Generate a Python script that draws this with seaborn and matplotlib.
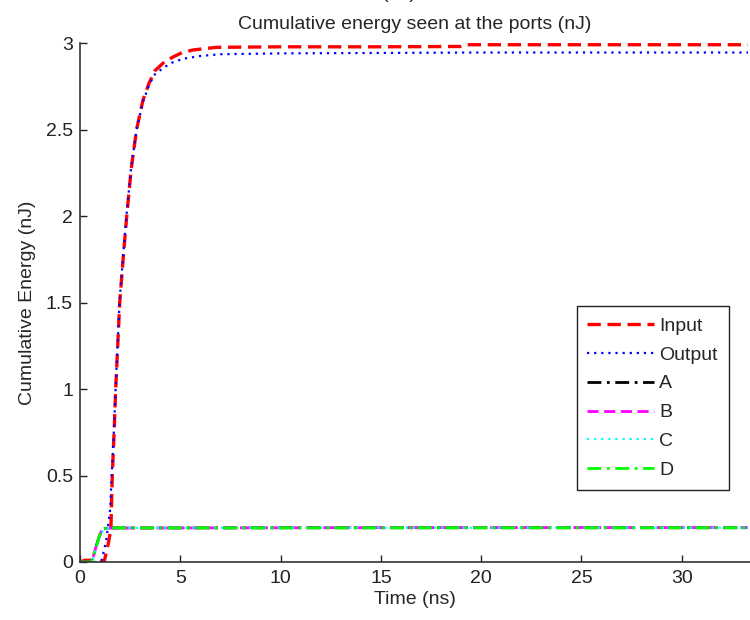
import matplotlib
matplotlib.use("Agg")
import matplotlib.pyplot as plt
import seaborn as sns
import pandas as pd

# Cumulative energy (nJ) at each port versus time (ns)
t_input = [0, 0.25, 0.75, 1.0, 1.2, 1.4, 1.54, 1.61, 1.7, 1.78, 1.88, 1.98, 2.15, 2.33,
           2.55, 2.82, 3.14, 3.45, 3.74, 4.2, 4.65, 5.1, 5.65, 6.8, 10, 15, 19, 19.3, 25, 33.3]
e_input = [0, 0.01, 0.01, 0.0, 0.0, 0.1, 0.19, 0.5, 0.75, 1.0, 1.25, 1.5, 1.75, 2.0,
           2.27, 2.5, 2.67, 2.77, 2.84, 2.89, 2.92, 2.945, 2.96, 2.975, 2.978, 2.978, 2.98, 2.99, 2.99, 2.99]

t_output = [0, 0.9, 1.08, 1.3, 1.5, 1.6, 1.7, 1.78, 1.88, 1.98, 2.15, 2.33,
            2.55, 2.82, 3.14, 3.45, 3.74, 4.2, 4.65, 5.2, 6.0, 7.0, 10, 20, 33.3]
e_output = [0, 0.0, 0.01, 0.12, 0.3, 0.55, 0.78, 1.02, 1.27, 1.52, 1.77, 2.02,
            2.28, 2.5, 2.66, 2.76, 2.82, 2.86, 2.89, 2.91, 2.925, 2.935, 2.94, 2.945, 2.945]

t_ports = [0, 0.55, 0.66, 0.78, 0.91, 1.0, 1.08, 1.15, 1.3, 1.5, 5, 10, 20, 33.3]
e_a = [0, 0.0, 0.03, 0.08, 0.13, 0.16, 0.18, 0.19, 0.195, 0.197, 0.197, 0.198, 0.198, 0.198]
e_b = [0, 0.0, 0.03, 0.08, 0.13, 0.16, 0.18, 0.19, 0.195, 0.196, 0.197, 0.198, 0.199, 0.199]
e_c = [0, 0.0, 0.02, 0.07, 0.12, 0.15, 0.17, 0.185, 0.194, 0.197, 0.198, 0.198, 0.198, 0.198]
e_d = [0, 0.0, 0.03, 0.08, 0.13, 0.16, 0.18, 0.19, 0.195, 0.197, 0.197, 0.197, 0.198, 0.198]

series = [
    ("Input", t_input, e_input, "#ff0000", (0, (4, 2)), 2.4),
    ("Output", t_output, e_output, "#0000ff", (0, (1, 2.2)), 1.6),
    ("A", t_ports, e_a, "#000000", (0, (5, 2, 1, 2)), 2.0),
    ("B", t_ports, e_b, "#ff00ff", (0, (4, 2)), 2.0),
    ("C", t_ports, e_c, "#00ffff", (0, (1, 2.2)), 1.6),
    ("D", t_ports, e_d, "#00ff00", (0, (5, 2, 1, 2)), 2.0),
]

FS = 14

sns.set_style("white")
plt.rcParams["font.family"] = ["Liberation Sans", "DejaVu Sans"]

fig = plt.figure(figsize=(7.5, 6.2), dpi=100)
ax = fig.add_axes([80 / 750, 58 / 620, 670 / 750, 519 / 620])

for name, t, e, color, ls, lw in series:
    df = pd.DataFrame({"t": t, "e": e})
    sns.lineplot(data=df, x="t", y="e", ax=ax, color=color, linestyle=ls,
                 linewidth=lw, label=name)

ax.set_xlim(0, 33.4)
ax.set_ylim(0, 3)
ax.set_xticks([0, 5, 10, 15, 20, 25, 30])
ax.set_yticks([0, 0.5, 1, 1.5, 2, 2.5, 3])
ax.set_yticklabels(["0", "0.5", "1", "1.5", "2", "2.5", "3"])
ax.tick_params(direction="in", length=5, width=1, labelsize=FS, colors="#222222",
               bottom=True, left=True)
ax.tick_params(axis="x", pad=6)
ax.tick_params(axis="y", pad=5)
ax.spines["top"].set_visible(False)
ax.spines["right"].set_visible(False)
for s in ("left", "bottom"):
    ax.spines[s].set_color("#333333")
    ax.spines[s].set_linewidth(1.2)

ax.set_xlabel("Time (ns)", fontsize=FS, labelpad=3)
ax.set_ylabel("Cumulative Energy (nJ)", fontsize=FS, labelpad=7)
ax.set_title("Cumulative energy seen at the ports (nJ)", fontsize=FS, pad=10)
fig.text(0.5, 1 + 2 / 620, "Time (ns)", ha="center", va="baseline", fontsize=FS,
         color="#222222")

leg = ax.legend(loc="lower right", bbox_to_anchor=(0.968, 0.139), fontsize=FS,
                handlelength=3.4, handletextpad=0.3, labelspacing=0.58,
                frameon=True, fancybox=False, framealpha=1, borderpad=0.55,
                borderaxespad=0)
leg.get_frame().set_edgecolor("#222222")
leg.get_frame().set_linewidth(1.0)

fig.savefig("out.png", dpi=100)
